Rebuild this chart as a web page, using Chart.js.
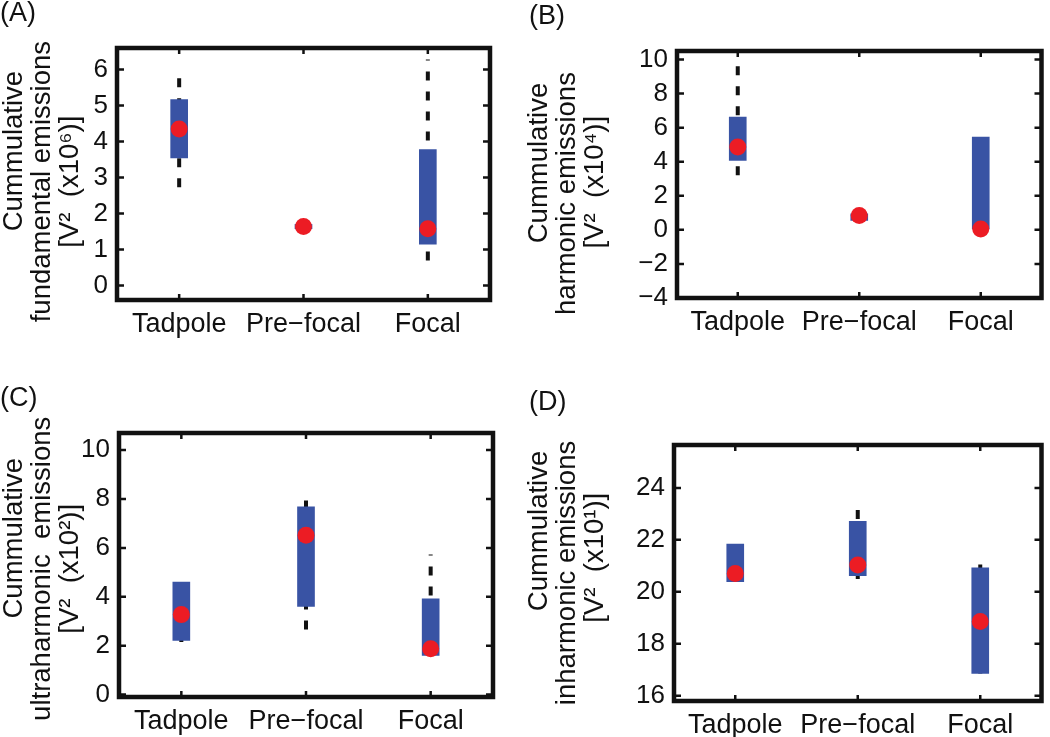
<!DOCTYPE html>
<html>
<head>
<meta charset="utf-8">
<script src="https://cdn.jsdelivr.net/npm/chart.js@4.4.0/dist/chart.umd.min.js"></script>
<style>
  html, body { margin: 0; padding: 0; background: #fff; }
  body { width: 1050px; height: 737px; position: relative; overflow: hidden; font-family: "Liberation Sans", Arial, sans-serif; }
  .panel { position: absolute; }
  .tag { position: absolute; font-size: 27px; line-height: 1; color: #111; }
</style>
</head>
<body>
<div class="panel" style="left:0;top:0"><canvas id="chartA" width="525" height="370"></canvas></div>
<div class="panel" style="left:525px;top:0"><canvas id="chartB" width="525" height="370"></canvas></div>
<div class="panel" style="left:0;top:370px"><canvas id="chartC" width="525" height="367"></canvas></div>
<div class="panel" style="left:525px;top:370px"><canvas id="chartD" width="525" height="367"></canvas></div>
<div class="tag" style="left:0;top:-1px">(A)</div>
<div class="tag" style="left:529px;top:2px">(B)</div>
<div class="tag" style="left:0;top:384px">(C)</div>
<div class="tag" style="left:529px;top:388px">(D)</div>
<script>
const categories = ['Tadpole', 'Pre\u2212focal', 'Focal'];

// (A) fundamental emissions
const fundLow = [2.73, 1.64, 0.70];
const fundHigh = [5.79, 1.64, 6.28];
const fundQ1 = [3.55, 1.58, 1.15];
const fundQ3 = [5.17, 1.70, 3.78];
const fundMedian = [4.35, 1.64, 1.58];
const fundTicks = [0, 1, 2, 3, 4, 5, 6];

// (B) harmonic emissions
const harmLow = [3.20, 0.55, 0.06];
const harmHigh = [9.66, 0.94, 5.94];
const harmQ1 = [4.08, 0.55, 0.06];
const harmQ3 = [6.62, 0.94, 5.45];
const harmMedian = [4.86, 0.84, 0.05];
const harmTicks = [-4, -2, 0, 2, 4, 6, 8, 10];

// (C) ultraharmonic emissions
const ultraLow = [2.15, 2.66, 1.60];
const ultraHigh = [4.60, 7.98, 5.73];
const ultraQ1 = [2.21, 3.61, 1.60];
const ultraQ3 = [4.60, 7.68, 3.92];
const ultraMedian = [3.27, 6.52, 1.87];
const ultraTicks = [0, 2, 4, 6, 8, 10];

// (D) inharmonic emissions
const inharmLow = [20.39, 20.49, 16.86];
const inharmHigh = [21.84, 23.19, 21.05];
const inharmQ1 = [20.39, 20.62, 16.86];
const inharmQ3 = [21.84, 22.71, 20.92];
const inharmMedian = [20.71, 21.03, 18.86];
const inharmTicks = [16, 18, 20, 22, 24];

const FONT = "'Liberation Sans', Arial, Helvetica, sans-serif";
const INK = '#111';

// matlab ylabel lines are not centred on each other, spaces nudge them
function pad(text, before, after) {
    return ' '.repeat(before) + text + ' '.repeat(after);
}

function whiskerPoints(low, high) {
    const pts = [];
    categories.forEach((c, i) => {
        pts.push({ x: c, y: low[i] }, { x: c, y: high[i] }, { x: c, y: null });
    });
    return pts;
}

// matlab-ish frame with inward tick marks
const framePlugin = {
    id: 'frame',
    afterDatasetsDraw(chart) {
        const { ctx, chartArea: a, scales } = chart;
        ctx.save();
        ctx.strokeStyle = INK;
        ctx.lineWidth = 2.5;
        ctx.beginPath();
        scales.y.ticks.forEach(t => {
            const py = scales.y.getPixelForValue(t.value);
            ctx.moveTo(a.left, py); ctx.lineTo(a.left + 7, py);
            ctx.moveTo(a.right, py); ctx.lineTo(a.right - 7, py);
        });
        scales.x.ticks.forEach((t, i) => {
            const px = scales.x.getPixelForTick(i);
            ctx.moveTo(px, a.top); ctx.lineTo(px, a.top + 6);
            ctx.moveTo(px, a.bottom); ctx.lineTo(px, a.bottom - 6);
        });
        ctx.stroke();
        ctx.lineWidth = 4.5;
        ctx.strokeRect(a.left, a.top, a.right - a.left, a.bottom - a.top);
        ctx.restore();
    }
};

function makeChart(id, cfg) {
    const canvas = document.getElementById(id);
    const W = canvas.width, H = canvas.height;
    return new Chart(canvas, {
        type: 'bar',
        data: {
            labels: categories,
            datasets: [
                {
                    type: 'line',
                    data: whiskerPoints(cfg.low, cfg.high),
                    borderColor: INK,
                    borderWidth: 4,
                    borderDash: [9, 11],
                    pointRadius: 0,
                    spanGaps: false,
                    order: 3
                },
                {
                    data: cfg.q1.map((v, i) => [v, cfg.q3[i]]),
                    backgroundColor: '#3953a4',
                    borderWidth: 0,
                    barThickness: 17,
                    order: 2
                },
                {
                    type: 'line',
                    data: cfg.median,
                    showLine: false,
                    pointRadius: 8.5,
                    pointBackgroundColor: '#ec1c24',
                    pointBorderWidth: 0,
                    order: 1
                }
            ]
        },
        options: {
            responsive: false,
            animation: false,
            layout: { padding: { left: 0, top: cfg.top, right: W - cfg.right, bottom: 0 } },
            plugins: { legend: { display: false }, tooltip: { enabled: false } },
            scales: {
                x: {
                    type: 'category',
                    offset: true,
                    grid: { display: false, drawTicks: false },
                    border: { display: false },
                    ticks: { color: INK, font: { size: 27, family: FONT }, padding: 8, maxRotation: 0, autoSkip: false },
                    afterFit: s => { s.height = H - cfg.bottom; }
                },
                y: {
                    min: cfg.min,
                    max: cfg.max,
                    afterBuildTicks: s => { s.ticks = cfg.ticks.map(v => ({ value: v })); },
                    grid: { display: false, drawTicks: false },
                    border: { display: false },
                    ticks: {
                        color: INK,
                        font: { size: 26, family: FONT },
                        padding: 9,
                        callback: v => String(v).replace('-', '\u2212')
                    },
                    title: {
                        display: true,
                        text: cfg.title,
                        color: INK,
                        font: { size: 27.5, family: FONT, lineHeight: 1.03 },
                        padding: { top: 0, bottom: 0 }
                    },
                    afterFit: s => { s.width = cfg.left; }
                }
            }
        },
        plugins: [framePlugin]
    });
}

makeChart('chartA', {
    low: fundLow, high: fundHigh, q1: fundQ1, q3: fundQ3, median: fundMedian, ticks: fundTicks,
    min: -0.4, max: 6.6, left: 117, right: 490, top: 48, bottom: 300,
    title: [pad('Cummulative', 6, 0), pad('fundamental emissions', 0, 2), pad('[V\u00b2  (x10\u2076)]', 0, 2)]
});
makeChart('chartB', {
    low: harmLow, high: harmHigh, q1: harmQ1, q3: harmQ3, median: harmMedian, ticks: harmTicks,
    min: -4, max: 10.5, left: 152, right: 518, top: 51, bottom: 298,
    title: [pad('Cummulative', 3, 0), pad('harmonic emissions', 0, 5), pad('[V\u00b2  (x10\u2074)]', 0, 2)]
});
makeChart('chartC', {
    low: ultraLow, high: ultraHigh, q1: ultraQ1, q3: ultraQ3, median: ultraMedian, ticks: ultraTicks,
    min: -0.1, max: 10.7, left: 119, right: 493, top: 63, bottom: 327,
    title: [pad('Cummulative', 7, 0), pad('ultraharmonic  emissions', 0, 1), pad('[V\u00b2  (x10\u00b2)]', 0, 1)]
});
makeChart('chartD', {
    low: inharmLow, high: inharmHigh, q1: inharmQ1, q3: inharmQ3, median: inharmMedian, ticks: inharmTicks,
    min: 15.8, max: 25.65, left: 149, right: 520, top: 75, bottom: 331,
    title: [pad('Cummulative', 11, 0), pad('inharmonic emissions', 0, 0), pad('[V\u00b2  (x10\u00b9)]', 4, 0)]
});
</script>
</body>
</html>
